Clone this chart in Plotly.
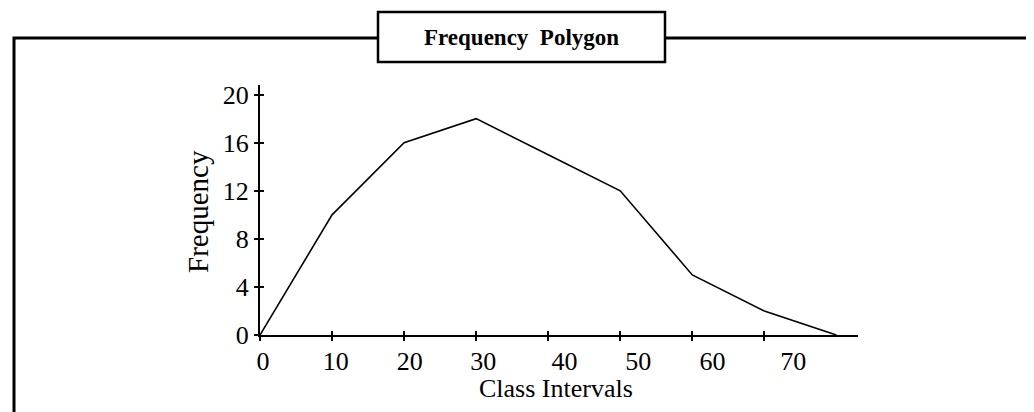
import plotly.graph_objects as go

# class interval marks and frequencies
class_marks = [0, 10, 20, 30, 40, 50, 60, 70, 80]
frequency = [0, 10, 16, 18, 15, 12, 5, 2, 0]

x_ticks = [0, 10, 20, 30, 40, 50, 60, 70]
y_ticks = [0, 4, 8, 12, 16, 20]
# printed labels drift to the right of their ticks in the source
label_nudge = [0.4, 0.5, 0.8, 1.0, 2.25, 2.5, 2.8, 4.0]

OFF = 8  # page body margin
W, H = 1034 - OFF, 412 - OFF
L, T = 260 - OFF, 85 - OFF
R, B = W - (858 - OFF), H - (335 - OFF)
PW, PH = W - L - R, H - T - B
SERIF = "Liberation Serif, DejaVu Serif, serif"


def px(x):
    # page pixel -> paper fraction
    return (x - OFF - L) / PW


def py(y):
    return (H - B - (y - OFF)) / PH


fig = go.Figure()
fig.add_trace(go.Scatter(
    x=class_marks, y=frequency, mode="lines",
    line=dict(color="black", width=1.6), hoverinfo="skip",
))
# empty traces so the overlay axes get drawn
fig.add_trace(go.Scatter(x=[], y=[], xaxis="x2", yaxis="y2", showlegend=False))
fig.add_trace(go.Scatter(x=[], y=[], xaxis="x3", yaxis="y", showlegend=False))

xr = [0, 83]
yr = [0, 20.8]
fig.update_layout(
    width=W, height=H,
    margin=dict(l=L, r=R, t=T, b=B),
    paper_bgcolor="white", plot_bgcolor="white",
    showlegend=False,
    font=dict(family=SERIF, color="black", size=26),
    xaxis=dict(range=xr, tickvals=x_ticks, showticklabels=False,
               ticks="outside", ticklen=4, tickwidth=1.5, tickcolor="black",
               showline=True, linecolor="black", linewidth=2,
               showgrid=False, zeroline=False),
    xaxis2=dict(range=xr, overlaying="x", anchor="y", matches="x",
                tickvals=x_ticks, showticklabels=False,
                ticks="inside", ticklen=4, tickwidth=1.5, tickcolor="black",
                showline=False, showgrid=False, zeroline=False),
    xaxis3=dict(range=xr, overlaying="x", anchor="y", matches="x",
                tickvals=[t + n for t, n in zip(x_ticks, label_nudge)],
                ticktext=[str(t) for t in x_ticks],
                ticks="", ticklabelstandoff=8, showline=False,
                showgrid=False, zeroline=False,
                tickfont=dict(family=SERIF, size=26, color="black")),
    yaxis=dict(range=yr, tickvals=y_ticks,
               ticks="outside", ticklen=4, tickwidth=1.5, tickcolor="black",
               showline=True, linecolor="black", linewidth=2,
               showgrid=False, zeroline=False, ticklabelstandoff=0,
               tickfont=dict(family=SERIF, size=26, color="black")),
    yaxis2=dict(range=yr, overlaying="y", anchor="x", matches="y",
                tickvals=y_ticks, showticklabels=False,
                ticks="inside", ticklen=4, tickwidth=1.5, tickcolor="black",
                showline=False, showgrid=False, zeroline=False),
    shapes=[
        dict(type="rect", xref="paper", yref="paper",
             x0=px(14), x1=px(1028), y0=py(450), y1=py(38),
             line=dict(color="black", width=3), layer="below"),
        dict(type="rect", xref="paper", yref="paper",
             x0=px(378), x1=px(665), y0=py(62), y1=py(12),
             fillcolor="white", line=dict(color="black", width=2.5),
             layer="below"),
    ],
    annotations=[
        dict(text="<b>Frequency  Polygon</b>", xref="paper", yref="paper",
             x=px(521), y=py(37), xanchor="center", yanchor="middle",
             showarrow=False,
             font=dict(family=SERIF, size=23, color="black")),
        dict(text="Frequency", xref="paper", yref="paper",
             x=px(198), y=py(212), xanchor="center", yanchor="middle",
             textangle=-90, showarrow=False,
             font=dict(family=SERIF, size=29, color="black")),
        dict(text="Class Intervals", xref="paper", yref="paper",
             x=px(556), y=py(388), xanchor="center", yanchor="middle",
             showarrow=False,
             font=dict(family=SERIF, size=26, color="black")),
    ],
)

fig.write_html("out.html")
